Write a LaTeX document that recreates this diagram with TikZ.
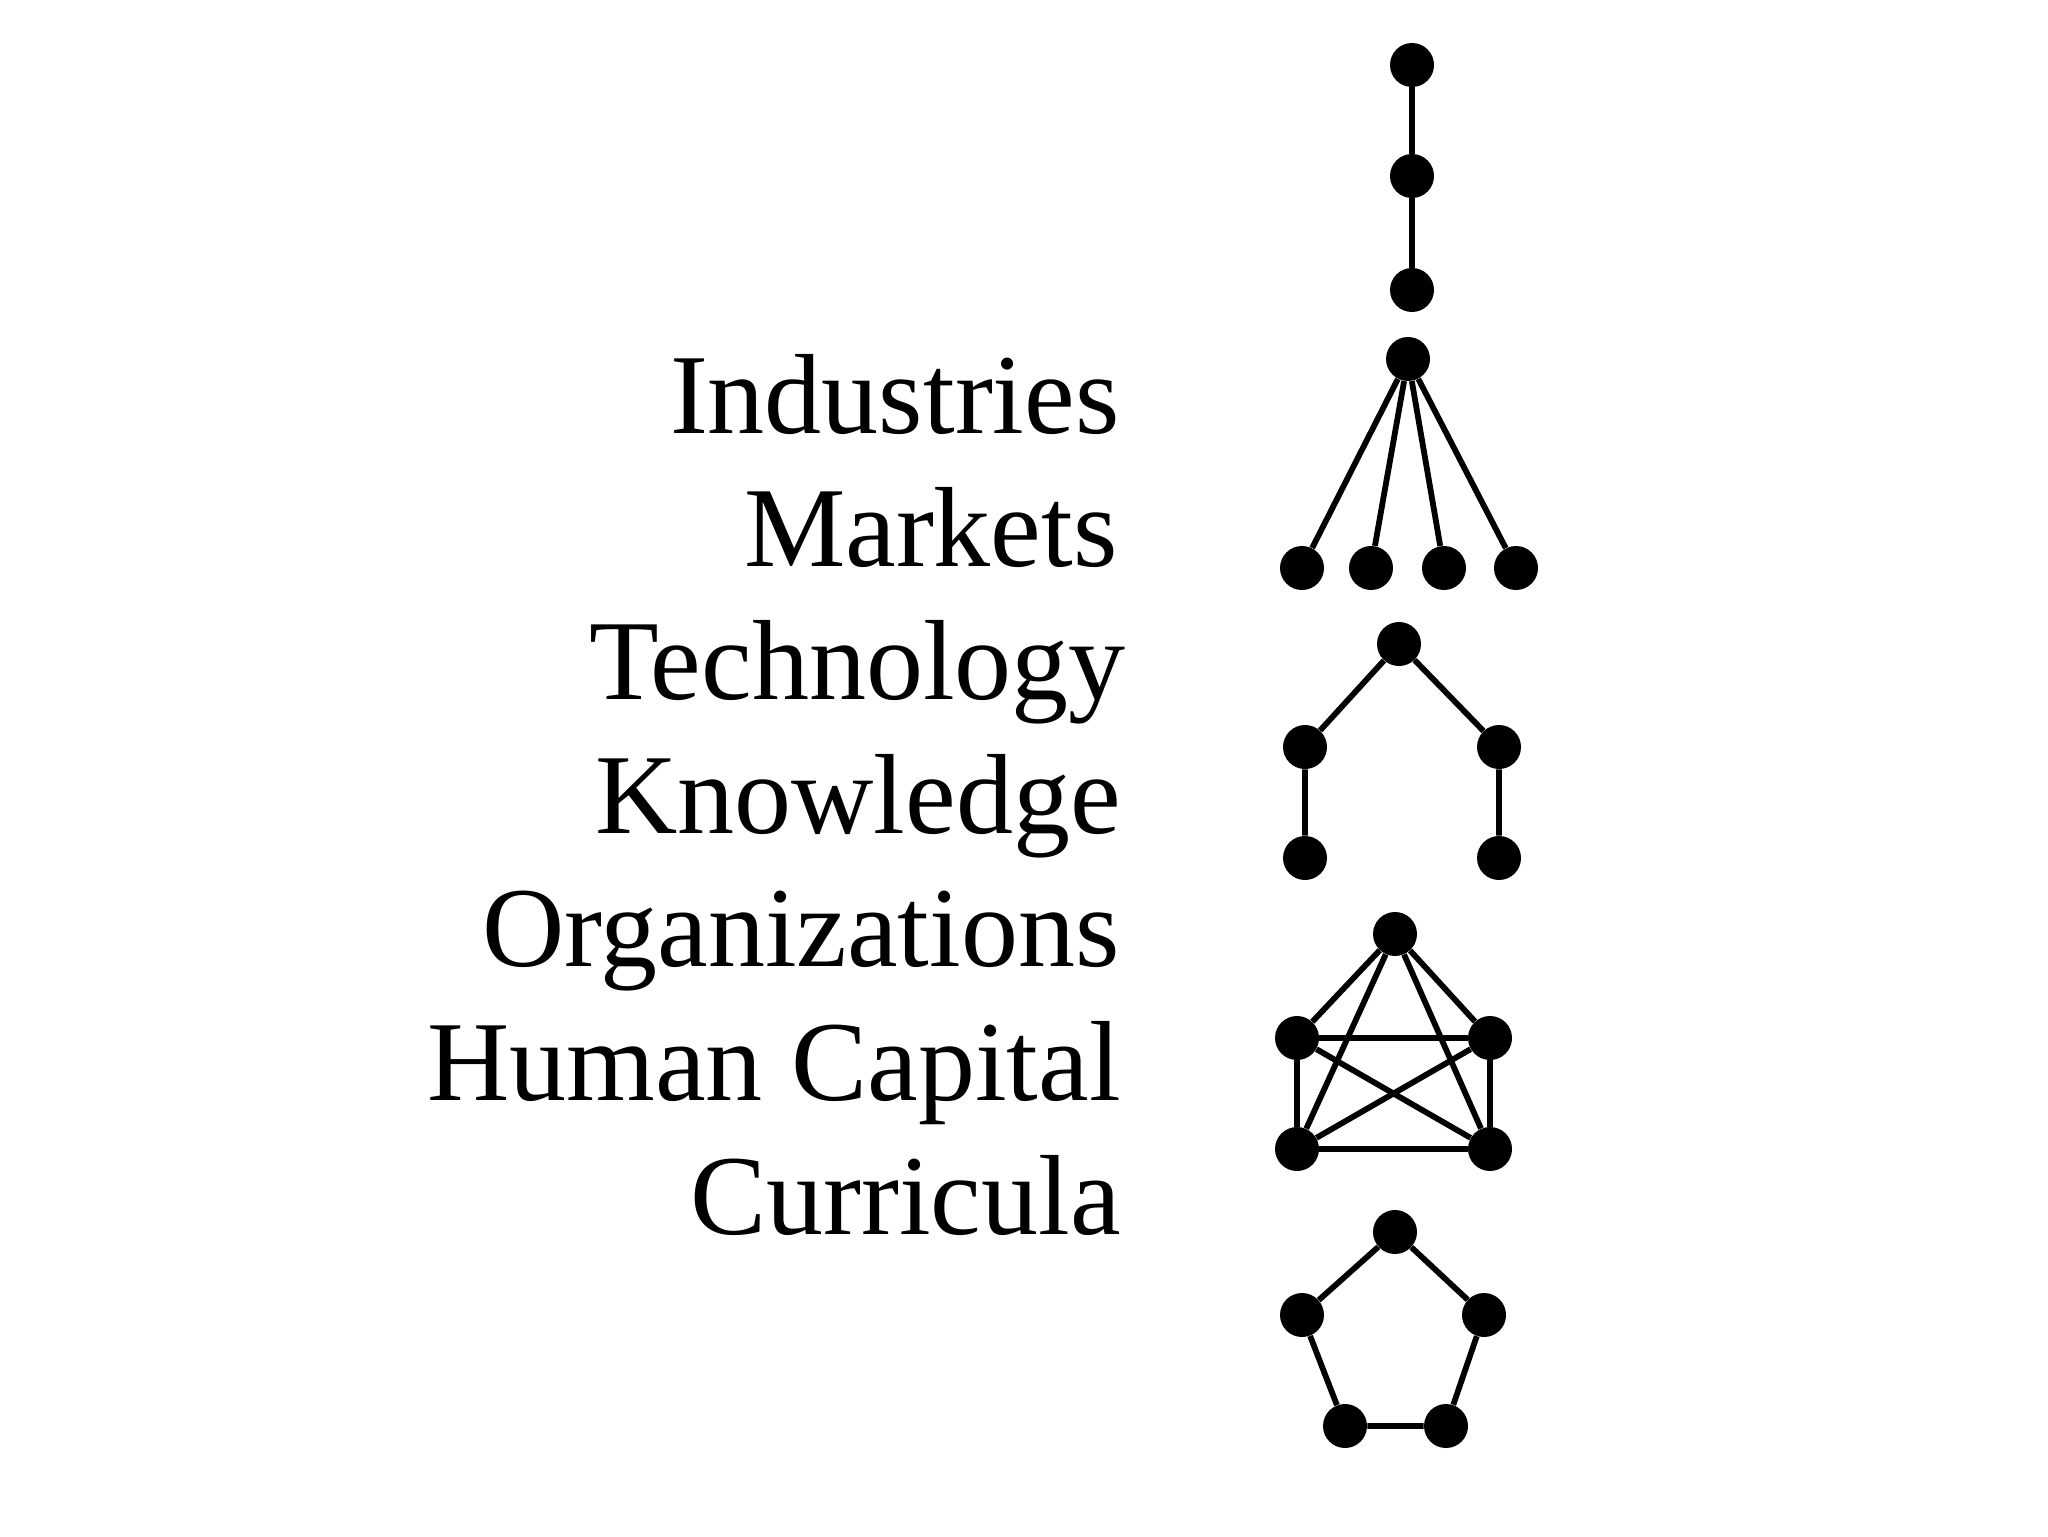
\documentclass[tikz,border=0pt]{standalone}
\usepackage{fontspec}
\setmainfont{Liberation Serif}
\begin{document}
\begin{tikzpicture}[x=0.5pt,y=-0.5pt,
  dot/.style={circle,fill=black,draw=none,minimum size=22pt,inner sep=0pt},
  edge/.style={line width=2.9pt,black},
  lbl/.style={anchor=base east,inner sep=0pt,font=\fontsize{57pt}{66pt}\selectfont}]
\useasboundingbox (0,0) rectangle (2048,1536);
% labels
\node[lbl] (t1) at (1120,433) {Industries};
\node[lbl] (t2) at (1118,566) {Markets};
\node[lbl] (t3) at (1126,699) {Technology};
\node[lbl] (t4) at (1121,833) {Knowledge};
\node[lbl] (t5) at (1120,966) {Organizations};
\node[lbl] (t6) at (1121,1100) {Human Capital};
\node[lbl] (t7) at (1121,1234) {Curricula};
% chain
\node[dot] (c1) at (1412,65) {};
\node[dot] (c2) at (1412,176) {};
\node[dot] (c3) at (1412,290) {};
\draw[edge] (c1) -- (c2) -- (c3);
% star
\node[dot] (s0) at (1408,359) {};
\node[dot] (s1) at (1302,568) {};
\node[dot] (s2) at (1371,568) {};
\node[dot] (s3) at (1444,568) {};
\node[dot] (s4) at (1516,568) {};
\foreach \i in {1,...,4} \draw[edge] (s0) -- (s\i);
% tree
\node[dot] (r0) at (1399,644) {};
\node[dot] (r1) at (1305,747) {};
\node[dot] (r2) at (1499,747) {};
\node[dot] (r3) at (1305,858) {};
\node[dot] (r4) at (1499,858) {};
\draw[edge] (r3) -- (r1) -- (r0) -- (r2) -- (r4);
% complete graph
\node[dot] (k0) at (1395,934) {};
\node[dot] (k1) at (1297,1038) {};
\node[dot] (k2) at (1490,1038) {};
\node[dot] (k3) at (1297,1149) {};
\node[dot] (k4) at (1490,1149) {};
\foreach \a/\b in {k0/k1,k0/k2,k0/k3,k0/k4,k1/k2,k1/k3,k1/k4,k2/k3,k2/k4,k3/k4}
  \draw[edge] (\a) -- (\b);
% pentagon
\node[dot] (p0) at (1395,1232) {};
\node[dot] (p1) at (1484,1315) {};
\node[dot] (p2) at (1446,1426) {};
\node[dot] (p3) at (1345,1426) {};
\node[dot] (p4) at (1302,1315) {};
\draw[edge] (p0) -- (p1) -- (p2) -- (p3) -- (p4) -- (p0);
\end{tikzpicture}
\end{document}
